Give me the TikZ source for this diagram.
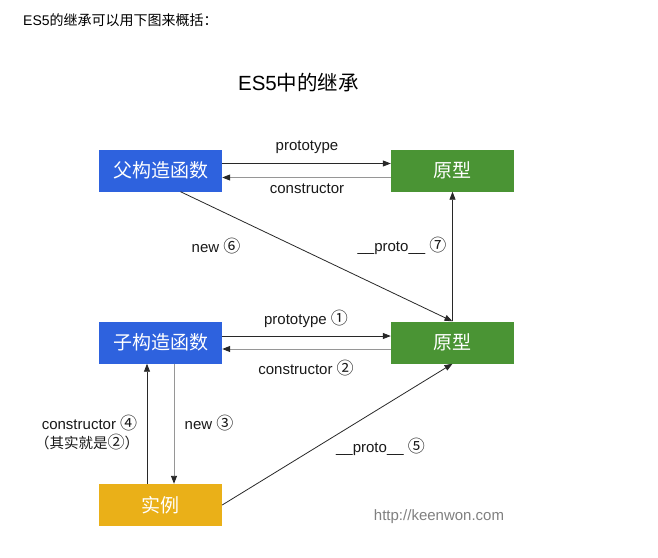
\documentclass[tikz,border=0pt]{standalone}
\usepackage{fontspec}
\setmainfont{Liberation Sans}
\newfontfamily\cjk{Noto Sans CJK SC}
\usetikzlibrary{arrows.meta}
\definecolor{boxblue}{RGB}{46,98,222}
\definecolor{boxgreen}{RGB}{74,148,52}
\definecolor{boxyellow}{RGB}{234,176,24}
\definecolor{darkline}{RGB}{40,40,40}
\definecolor{grayline}{RGB}{150,150,150}
\newcommand{\circnum}[1]{{\cjk\fontsize{17}{17}\selectfont #1}}
\begin{document}
\begin{tikzpicture}[x=1pt,y=-1pt,
  box/.style={minimum width=123pt,minimum height=42pt,inner sep=0pt,text=white,font=\cjk\fontsize{19}{21}\selectfont},
  lbl/.style={inner sep=0pt,font=\fontsize{15}{17}\selectfont,text=black!90},
  arr/.style={line width=0.8pt,draw=darkline,-{Triangle[length=8pt,width=6pt,color=darkline]}},
  garr/.style={line width=0.9pt,draw=grayline,-{Triangle[length=8pt,width=6pt,color=darkline]}}]
\useasboundingbox (0,0) rectangle (658,557);
\fill[white] (0,0) rectangle (658,557);

\node[anchor=west,inner sep=0pt,font=\fontsize{14}{16}\selectfont] (intro) at (23,20) {ES5{\cjk 的继承可以用下图来概括：}};
\node[inner sep=0pt,font=\fontsize{20.5}{23}\selectfont] (title) at (298.5,83) {ES5{\cjk 中的继承}};

\node[box,fill=boxblue] (pf) at (160.5,170.5) {父构造函数};
\node[box,fill=boxgreen] (pt) at (452.5,170.5) {原型};
\node[box,fill=boxblue] (cf) at (160.5,342.5) {子构造函数};
\node[box,fill=boxgreen] (pb) at (452.5,342.5) {原型};
\node[box,fill=boxyellow] (inst) at (160.5,505) {实例};

\draw[arr] ([yshift=7pt]pf.east) -- ([yshift=7pt]pt.west);
\draw[garr] ([yshift=-7pt]pt.west) -- ([yshift=-7pt]pf.east);
\draw[arr] ([yshift=6.5pt]cf.east) -- ([yshift=6.5pt]pb.west);
\draw[garr] ([yshift=-6.5pt]pb.west) -- ([yshift=-6.5pt]cf.east);
\draw[arr] ([xshift=20pt]pf.south) -- (pb.north);
\draw[arr] (pb.north) -- (pt.south);
\draw[arr] ([xshift=-13.5pt]inst.north) -- ([xshift=-13.5pt]cf.south);
\draw[garr] ([xshift=13.5pt]cf.south) -- ([xshift=13.5pt]inst.north);
\draw[arr] (inst.east) -- (pb.south);

\node[lbl] (l1) at (307,147) {prototype};
\node[lbl] (l2) at (307,189) {constructor};
\node[lbl] (l3) at (306,319) {prototype \circnum{①}};
\node[lbl] (l4) at (306,368) {constructor \circnum{②}};
\node[lbl] (l6) at (216,246) {new \circnum{⑥}};
\node[lbl] (l7) at (402,246) {\_\_proto\_\_ \circnum{⑦}};
\node[lbl] (l8) at (89.5,423) {constructor \circnum{④}};
\node[lbl,font=\cjk\fontsize{14.5}{17}\selectfont] (l9) at (87,442) {（其实就是\circnum{②}）};
\node[lbl] (l10) at (209,423) {new \circnum{③}};
\node[lbl] (l11) at (380.5,447) {\_\_proto\_\_ \circnum{⑤}};
\node[lbl,text=black!50] (url) at (439,517) {http://keenwon.com};
\end{tikzpicture}
\end{document}
